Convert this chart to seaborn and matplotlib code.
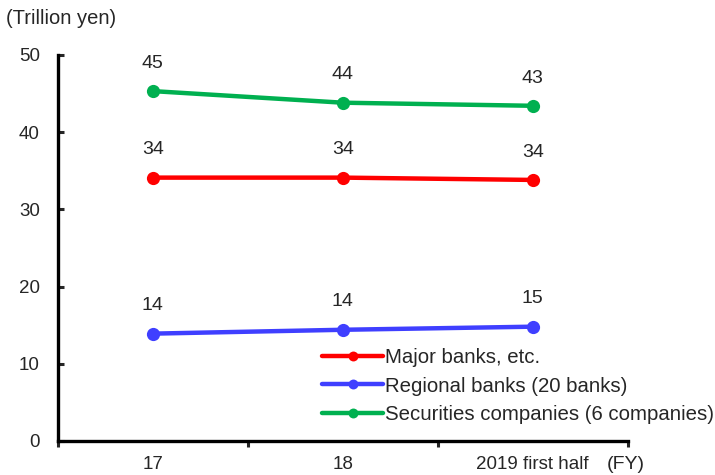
import pandas as pd
import numpy as np
import matplotlib.pyplot as plt
import seaborn as sns

# data
years = ['17', '18', '2019 first half']
major = [34.1, 34.1, 33.8]
regional = [13.9, 14.4, 14.8]
securities = [45.3, 43.8, 43.4]
major_lbl = ['34', '34', '34']
regional_lbl = ['14', '14', '15']
securities_lbl = ['45', '44', '43']
names = ['Major banks, etc.', 'Regional banks (20 banks)', 'Securities companies (6 companies)']

sns.set_style('white')
plt.rcParams['font.family'] = ['Liberation Sans', 'DejaVu Sans']

df = pd.DataFrame({
    'year': years * 3,
    'value': major + regional + securities,
    'series': [names[0]] * 3 + [names[1]] * 3 + [names[2]] * 3,
})
colors = ['#FF0000', '#3F3FFF', '#00B050']

fig = plt.figure(figsize=(7.15, 4.75), dpi=100)
ax = fig.add_axes([0.081, 0.0716, 0.797, 0.813])

sns.lineplot(data=df, x='year', y='value', hue='series', palette=colors,
             marker='o', markersize=9.5, markeredgewidth=0, linewidth=3.2,
             sort=False, ax=ax)

# value labels above points
for vals, lbls in [(major, major_lbl), (regional, regional_lbl), (securities, securities_lbl)]:
    for i, (v, t) in enumerate(zip(vals, lbls)):
        ax.annotate(t, (i, v), xytext=(0, 20), textcoords='offset points',
                    ha='center', va='center', fontsize=14)

ax.set_xlim(-0.5, 2.5)
ax.set_ylim(0, 50)
ax.set_yticks(range(0, 51, 10))
ax.set_xticks(range(3))
ax.set_xticklabels(years)
ax.set_xticks([-0.5, 0.5, 1.5, 2.5], minor=True)
ax.tick_params(axis='x', which='major', length=0, pad=11, labelsize=13.5)
ax.tick_params(axis='x', which='minor', length=4, width=2.2, direction='out', bottom=True)
ax.tick_params(axis='y', length=4, width=2.2, direction='in', left=True, pad=13, labelsize=13.5)
ax.set_xlabel('')
ax.set_ylabel('')
for s in ['top', 'right']:
    ax.spines[s].set_visible(False)
for s in ['left', 'bottom']:
    ax.spines[s].set_linewidth(2.4)
    ax.spines[s].set_color('black')

fig.text(0.008, 0.962, '(Trillion yen)', fontsize=14.5, va='center')
fig.text(0.848, 0.022, '(FY)', fontsize=14, va='center')

ax.legend(loc='upper left', bbox_to_anchor=(0.451, 0.268), bbox_transform=fig.transFigure,
          frameon=False, fontsize=14.7, handlelength=2.95, handletextpad=0.1,
          labelspacing=0.48, borderaxespad=0, borderpad=0, markerscale=0.75)

fig.savefig('out.png', dpi=100)
